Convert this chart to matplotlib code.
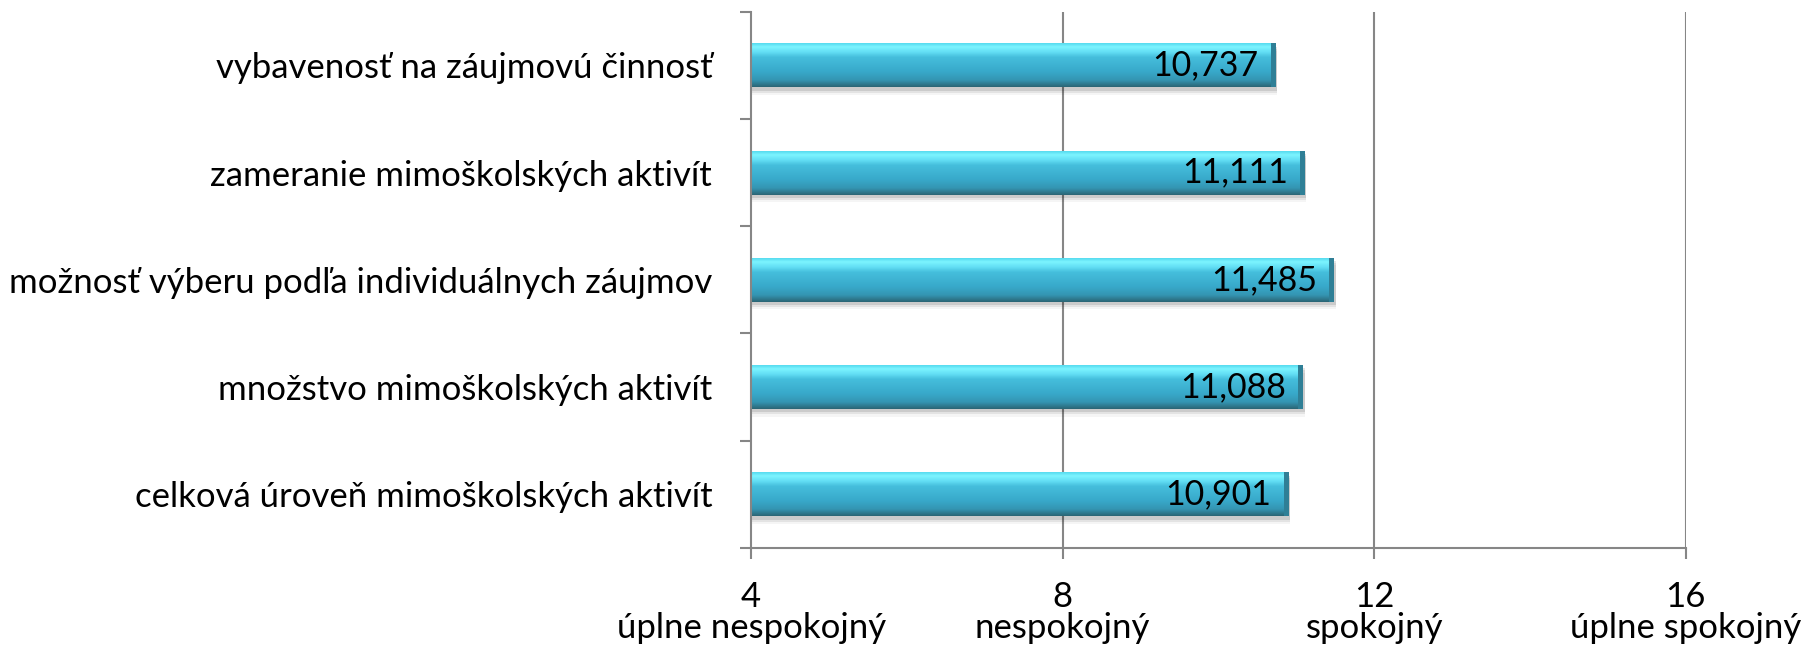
import matplotlib.pyplot as plt
import numpy as np
from matplotlib.colors import LinearSegmentedColormap
from matplotlib.patches import Rectangle

# data (bottom to top, as drawn)
categories = ["celková úroveň mimoškolských aktivít",
              "množstvo mimoškolských aktivít",
              "možnosť výberu podľa individuálnych záujmov",
              "zameranie mimoškolských aktivít",
              "vybavenosť na záujmovú činnosť"]
values = [10.901, 11.088, 11.485, 11.111, 10.737]
x_ticks = [4, 8, 12, 16]
x_names = ["úplne nespokojný", "nespokojný", "spokojný", "úplne spokojný"]

plt.rcParams['font.family'] = ['Lato', 'DejaVu Sans']
plt.rcParams['font.size'] = 25

fig = plt.figure(figsize=(18.16, 6.5), dpi=100)
ax = fig.add_axes([0.4136, 0.157, 0.5146, 0.825])

grey = "#868686"
bar_h = 0.41
y = np.arange(len(categories))

# glossy cyan gradient, top -> bottom
cmap = LinearSegmentedColormap.from_list("gloss", [
    (0.0, "#58dcf0"), (0.08, "#7cf4ff"), (0.2, "#62def4"),
    (0.32, "#45bedc"), (0.65, "#38a9ca"), (0.85, "#3495b2"),
    (1.0, "#2b6676")])
grad = np.linspace(0, 1, 64).reshape(-1, 1)

for yi, v in zip(y, values):
    # soft shadow under the bar
    for k, a in enumerate([0.10, 0.07, 0.04]):
        ax.add_patch(Rectangle((4, yi - bar_h / 2 - 0.03 - 0.02 * k), v - 4 + 0.02,
                               bar_h, color="black", alpha=a, lw=0, zorder=2))
    bar = ax.barh(yi, v - 4, left=4, height=bar_h, color="#38a9ca", lw=0, zorder=3)[0]
    im = ax.imshow(grad, cmap=cmap, aspect="auto", zorder=4,
                   extent=(4, v, yi - bar_h / 2, yi + bar_h / 2), origin="upper")
    im.set_clip_path(bar)
    # darker right end
    ax.add_patch(Rectangle((v - 0.06, yi - bar_h / 2), 0.06, bar_h,
                           color="#2f7f96", lw=0, zorder=5))
    ax.text(v - 0.22, yi, f"{v:.3f}".replace(".", ","), ha="right", va="center",
            fontsize=24.5, color="black", zorder=6)

ax.set_xlim(4, 16)
ax.set_ylim(-0.5, len(categories) - 0.5)

for xt in x_ticks[1:]:
    ax.axvline(xt, color=grey, lw=1.5, zorder=1)

ax.set_xticks(x_ticks)
ax.set_xticklabels([f"{t}\n{n}" for t, n in zip(x_ticks, x_names)], linespacing=0.95)
ax.set_yticks(y)
ax.set_yticklabels(categories)
ax.set_yticks(np.arange(-0.5, len(categories)), minor=True)
ax.tick_params(axis="y", which="major", length=0, pad=28)
ax.tick_params(axis="y", which="minor", length=8, width=1.5, color=grey, direction="out")
ax.tick_params(axis="x", length=8, width=1.5, color=grey, direction="out", pad=16)

for s in ["top", "right"]:
    ax.spines[s].set_visible(False)
for s in ["left", "bottom"]:
    ax.spines[s].set_color(grey)
    ax.spines[s].set_linewidth(1.5)
    ax.spines[s].set_zorder(7)

fig.savefig("out.png", dpi=100)
